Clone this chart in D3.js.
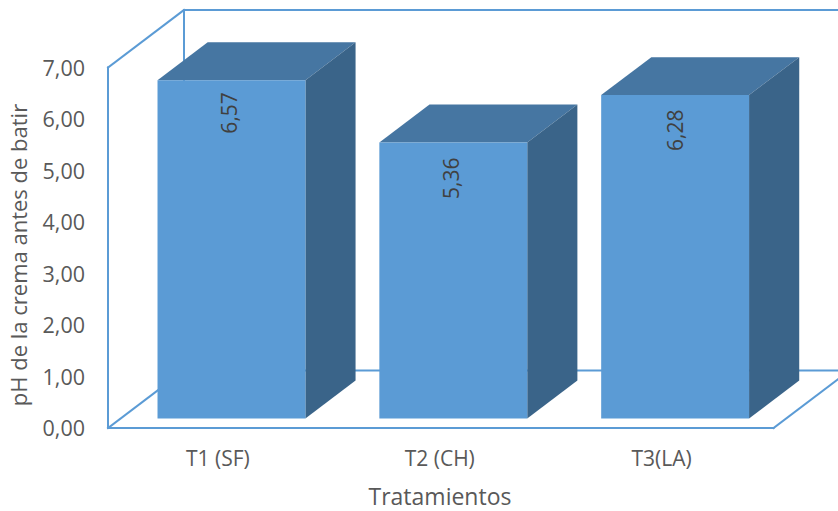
<!DOCTYPE html>
<html>
<head>
<meta charset="utf-8">
<script src="https://d3js.org/d3.v7.min.js"></script>
<style>
  html, body { margin: 0; padding: 0; background: #fff; overflow: hidden; }
  text { font-family: "Open Sans", sans-serif; fill: #595959; }
</style>
</head>
<body>
<div id="chart"></div>
<script>
const categories = ["T1 (SF)", "T2 (CH)", "T3(LA)"];
const phValues = [6.57, 5.36, 6.28];
const valueLabels = ["6,57", "5,36", "6,28"];
const yTicks = [0, 1, 2, 3, 4, 5, 6, 7];

const width = 838, height = 511;
const plotLeft = 108, plotRight = 773.5, plotBottom = 428, plotTop = 67.5;

// oblique offset of the back wall, and where the bars sit inside that depth
const wallDepth = {x: 76, y: -57.5};
const barFront = 0.165;
const barBack = 0.825;

// the value labels were hand placed, so each has its own nudge
const labelNudgeX = [5.5, 5.5, 8];
const labelNudgeY = [12, 15, 14.5];

const x = d3.scaleBand().domain(categories).range([plotLeft, plotRight]).paddingInner(1 / 3).paddingOuter(1 / 6);
const y = d3.scaleLinear().domain([0, 7]).range([plotBottom, plotTop]);

const comma = d3.formatLocale({decimal: ",", thousands: ".", grouping: [3], currency: ["", ""]}).format(".2f");

const svg = d3.select("#chart").append("svg")
    .attr("width", width)
    .attr("height", height)
    .style("display", "block");

// project a plot point to the screen, d is 0 at the front and 1 at the back wall
const px = (xv, d) => xv + d * wallDepth.x;
const py = (yv, d) => y(yv) + d * wallDepth.y;

const frame = [
    [[plotLeft, 0], [plotLeft, 7]],
    [[plotLeft, 7, 1], [plotRight + 100, 7, 1]],
    [[plotLeft, 7], [plotLeft, 7, 1]],
    [[plotLeft, 7, 1], [plotLeft, 0, 1]],
    [[plotLeft, 0, 1], [plotRight + 100, 0, 1]],
    [[plotLeft, 0], [plotLeft, 0, 1]],
    [[plotRight, 0], [plotRight, 0, 1]],
    [[plotLeft, 0], [plotRight, 0]]
];

svg.append("g").selectAll("line").data(frame).enter().append("line")
    .attr("x1", d => px(d[0][0], d[0][2] || 0))
    .attr("y1", d => py(d[0][1], d[0][2] || 0))
    .attr("x2", d => px(d[1][0], d[1][2] || 0))
    .attr("y2", d => py(d[1][1], d[1][2] || 0))
    .attr("stroke", "#5b9bd5")
    .attr("stroke-width", 2)
    .attr("stroke-linecap", "square");

const poly = pts => pts.map(p => px(p[0], p[2]) + "," + py(p[1], p[2])).join(" ");

const bars = svg.append("g").selectAll("g")
    .data(categories.map((c, i) => ({cat: c, value: phValues[i], label: valueLabels[i], i: i})))
    .enter().append("g");

// top face
bars.append("polygon")
    .attr("fill", "#4676a2")
    .attr("points", d => {
        const x0 = x(d.cat), x1 = x0 + x.bandwidth();
        return poly([[x0, d.value, barFront], [x1, d.value, barFront], [x1, d.value, barBack], [x0, d.value, barBack]]);
    });

// side face
bars.append("polygon")
    .attr("fill", "#3a6489")
    .attr("points", d => {
        const x1 = x(d.cat) + x.bandwidth();
        return poly([[x1, 0, barFront], [x1, d.value, barFront], [x1, d.value, barBack], [x1, 0, barBack]]);
    });

// front face
bars.append("polygon")
    .attr("fill", "#5b9bd5")
    .attr("points", d => {
        const x0 = x(d.cat), x1 = x0 + x.bandwidth();
        return poly([[x0, 0, barFront], [x1, 0, barFront], [x1, d.value, barFront], [x0, d.value, barFront]]);
    });

bars.append("text")
    .attr("transform", d => {
        const cx = px(x(d.cat) + x.bandwidth() / 2, barFront);
        return "translate(" + (cx + labelNudgeX[d.i]) + "," + (py(d.value, barFront) + labelNudgeY[d.i]) + ") rotate(-90)";
    })
    .attr("text-anchor", "end")
    .style("font-size", "21px")
    .style("fill", "#404040")
    .text(d => d.label);

// value axis
const yAxis = svg.append("g")
    .attr("transform", "translate(" + plotLeft + ",1)")
    .call(d3.axisLeft(y).tickValues(yTicks).tickSize(0).tickPadding(23).tickFormat(comma));
yAxis.select(".domain").remove();
yAxis.selectAll("text").style("font-size", "21.5px").style("font-family", null);

// category axis
const xAxis = svg.append("g")
    .attr("transform", "translate(-1," + plotBottom + ")")
    .call(d3.axisBottom(x).tickSize(0).tickPadding(23));
xAxis.select(".domain").remove();
xAxis.selectAll("text").style("font-size", "21px").style("font-family", null);

svg.append("text")
    .attr("x", 440)
    .attr("y", 505)
    .attr("text-anchor", "middle")
    .style("font-size", "23px")
    .text("Tratamientos");

svg.append("text")
    .attr("transform", "translate(27,255) rotate(-90)")
    .attr("text-anchor", "middle")
    .style("font-size", "22px")
    .text("pH de la crema antes de batir");
</script>
</body>
</html>
